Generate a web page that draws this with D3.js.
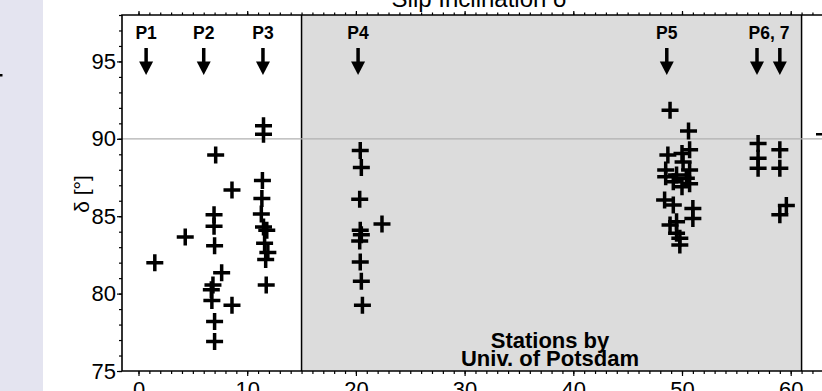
<!DOCTYPE html>
<html>
<head>
<meta charset="utf-8">
<script src="https://cdn.jsdelivr.net/npm/d3@7"></script>
<style>
  body { margin: 0; background: #fff; }
  svg { display: block; font-family: "Liberation Sans", Arial, sans-serif; }
  .axis text { font-size: 22px; fill: #000; }
  .axis line { stroke: #000; stroke-width: 1.2; }
  .axis path { display: none; }
</style>
</head>
<body>
<svg id="chart" width="822" height="391"></svg>
<script>
// DATA
const xTicks = [0, 10, 20, 30, 40, 50, 60];
const yTicks = [75, 80, 85, 90, 95];
const potsdamRange = [15, 61];          // stations by Univ. of Potsdam
const refInclination = 90;

const profileLabels = ["P1", "P2", "P3", "P4", "P5", "P6, 7"];
const profileLabelX = [0.7, 6.0, 11.45, 20.2, 48.6, 58.0];
const arrowX = [0.7, 6.0, 11.45, 20.2, 48.6, 56.9, 59.0];

// distance along strike [km]
const distKm = [
  1.5, 4.3,
  7.1, 8.6, 6.95, 6.95, 7.0, 7.65, 6.85, 6.7, 6.75, 8.6, 7.0, 7.0,
  11.5, 11.5, 11.4, 11.35, 11.3, 11.5, 11.8, 11.6, 11.9, 11.7, 11.75,
  20.4, 20.5, 20.35, 22.4, 20.4, 20.5, 20.35, 20.4, 20.5, 20.6,
  48.9, 50.6, 50.7, 48.7, 50.0, 50.1, 50.7, 48.5, 48.5, 49.5, 50.4, 49.2, 50.0, 50.7,
  48.4, 49.2, 51.0, 51.0, 48.9, 49.5, 49.5, 49.8, 49.8,
  57.0, 57.0, 57.0,
  59.0, 59.0, 59.6, 59.0
];
// slip inclination delta [deg]
const inclDeg = [
  82.0, 83.65,
  88.95, 86.7, 85.1, 84.35, 83.1, 81.35, 80.55, 80.25, 79.55, 79.25, 78.2, 76.9,
  90.85, 90.3, 87.3, 86.15, 85.15, 84.3, 84.1, 83.25, 82.65, 82.2, 80.55,
  89.25, 88.15, 86.1, 84.5, 84.1, 83.8, 83.4, 82.05, 80.8, 79.25,
  91.85, 90.5, 89.3, 88.95, 89.05, 88.5, 87.98, 87.98, 87.55, 87.66, 87.45, 87.23, 86.9, 87.1,
  86.05, 85.72, 85.5, 84.86, 84.43, 84.65, 83.9, 83.57, 83.14,
  89.7, 88.75, 88.1,
  89.3, 88.1, 85.7, 85.1
];

const points = distKm.map((d, i) => ({ x: d, y: inclDeg[i] }));

// SCALES
const svg = d3.select("#chart");
const x = d3.scaleLinear().domain([0, 60]).range([138.5, 790.7]);
const y = d3.scaleLinear().domain([75, 98]).range([371, 15]);

const frameLeft = 122, frameRight = 822;
const plotTop = y(98), plotBottom = y(75);

// side strip of the slide
svg.append("rect")
  .attr("x", 0).attr("y", 0).attr("width", 43).attr("height", 391)
  .attr("fill", "#e4e4f0");
svg.append("rect")
  .attr("x", 0).attr("y", 74).attr("width", 2.5).attr("height", 2.5)
  .attr("fill", "#000");

// Potsdam stations region
svg.append("rect")
  .attr("x", x(potsdamRange[0]))
  .attr("y", plotTop)
  .attr("width", x(potsdamRange[1]) - x(potsdamRange[0]))
  .attr("height", plotBottom - plotTop)
  .attr("fill", "#dcdcdc");

potsdamRange.forEach(v => {
  svg.append("line")
    .attr("x1", x(v)).attr("x2", x(v))
    .attr("y1", plotTop).attr("y2", plotBottom)
    .attr("stroke", "#000").attr("stroke-width", 1.5);
});

// reference line at 90 deg
svg.append("line")
  .attr("x1", 118).attr("x2", frameRight)
  .attr("y1", y(refInclination)).attr("y2", y(refInclination))
  .attr("stroke", "#b0b0b0").attr("stroke-width", 1.2);

// stray mark at right edge
svg.append("rect")
  .attr("x", 816).attr("y", 133).attr("width", 6).attr("height", 2.5)
  .attr("fill", "#000");

// AXES
const minorX = d3.range(0, 63);
const minorY = d3.range(75, 99);

svg.append("g").attr("class", "axis")
  .attr("transform", `translate(0,${plotTop})`)
  .call(d3.axisTop(x).tickValues(minorX).tickSize(2.5).tickFormat(""));
svg.append("g").attr("class", "axis")
  .attr("transform", `translate(0,${plotTop})`)
  .call(d3.axisTop(x).tickValues(xTicks).tickSize(4).tickFormat(""));

svg.append("g").attr("class", "axis")
  .attr("transform", `translate(0,${plotBottom})`)
  .call(d3.axisBottom(x).tickValues(minorX).tickSize(3).tickFormat(""));
svg.append("g").attr("class", "axis")
  .attr("transform", `translate(0,${plotBottom})`)
  .call(d3.axisBottom(x).tickValues(xTicks).tickSize(5).tickPadding(5).tickFormat(d3.format("d")));

svg.append("g").attr("class", "axis")
  .attr("transform", `translate(${frameLeft},0)`)
  .call(d3.axisLeft(y).tickValues(minorY).tickSize(3).tickFormat(""));
svg.append("g").attr("class", "axis")
  .attr("transform", `translate(${frameLeft},0)`)
  .call(d3.axisLeft(y).tickValues(yTicks).tickSize(5).tickPadding(1).tickFormat(d3.format("d")));

// frame
svg.append("path")
  .attr("d", `M${frameRight},${plotTop}H${frameLeft}V${plotBottom}H${frameRight}`)
  .attr("fill", "none")
  .attr("stroke", "#000")
  .attr("stroke-width", 1.6);

// POINTS
svg.append("g")
  .selectAll("path")
  .data(points)
  .join("path")
  .attr("transform", d => `translate(${x(d.x)},${y(d.y)})`)
  .attr("d", "M-8.5,0H8.5M0,-8.5V8.5")
  .attr("stroke", "#000")
  .attr("stroke-width", 3.5)
  .attr("fill", "none");

// PROFILE ARROWS
const arrows = svg.append("g");
arrows.selectAll("rect")
  .data(arrowX)
  .join("rect")
  .attr("x", d => x(d) - 1.75)
  .attr("y", 48)
  .attr("width", 3.5)
  .attr("height", 15)
  .attr("fill", "#000");
arrows.selectAll("path")
  .data(arrowX)
  .join("path")
  .attr("d", d => `M${x(d) - 7},61.5L${x(d) + 7},61.5L${x(d)},75Z`)
  .attr("fill", "#000");

svg.append("g")
  .selectAll("text")
  .data(profileLabels)
  .join("text")
  .attr("x", (d, i) => x(profileLabelX[i]))
  .attr("y", 39)
  .attr("text-anchor", "middle")
  .style("font-size", "17.5px")
  .style("font-weight", "bold")
  .text(d => d);

// TEXTS
svg.append("text")
  .attr("x", 479)
  .attr("y", 7)
  .attr("text-anchor", "middle")
  .style("font-size", "24px")
  .text("Slip Inclination δ");

svg.append("text")
  .attr("transform", "translate(89,194) rotate(-90)")
  .attr("text-anchor", "middle")
  .style("font-size", "21px")
  .text("δ [°]");

const note = svg.append("text")
  .attr("text-anchor", "middle")
  .style("font-size", "22px")
  .style("font-weight", "bold");
note.append("tspan").attr("x", 550).attr("y", 348).text("Stations by");
note.append("tspan").attr("x", 550).attr("y", 366).text("Univ. of Potsdam");
</script>
</body>
</html>
